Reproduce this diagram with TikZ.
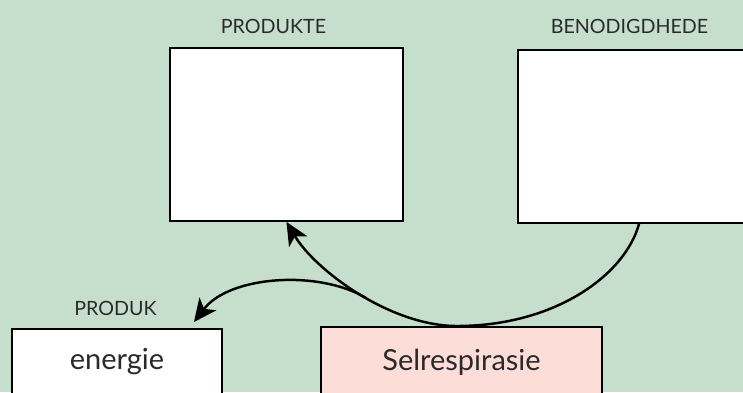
\documentclass[tikz,border=0pt]{standalone}
\usepackage{fontspec}
\setmainfont{Lato}
\usetikzlibrary{arrows.meta}

\definecolor{bggreen}{HTML}{C6DFCC}
\definecolor{cellpink}{HTML}{FDDDD8}
\definecolor{inkgray}{HTML}{2A2A2A}

\tikzset{
  box/.style={draw=black, line width=1.1pt, fill=white, inner sep=0pt},
  heading/.style={text=inkgray, font=\fontsize{11.2}{13}\selectfont},
  word/.style={text=inkgray, font=\fontsize{16.5}{19}\selectfont},
  flow/.style={line width=1.4pt, -{Stealth[length=13pt,width=12pt,inset=3.5pt]}}
}

\begin{document}
\begin{tikzpicture}[x=0.02cm, y=-0.02cm]
  % canvas
  \fill[bggreen] (0,0) rectangle (743,392);
  \useasboundingbox (0,0) rectangle (743,392);

  % empty answer boxes
  \node[box, minimum width=4.66cm, minimum height=3.46cm] (prod) at (286.5,134.5) {};
  \node[box, minimum width=4.84cm, minimum height=3.46cm] (beno) at (639,136.5) {};
  \node[heading] (prodlbl) at (273.5,26) {PRODUKTE};
  \node[heading] (benolbl) at (629.5,26) {BENODIGDHEDE};

  % bottom row
  \node[box, minimum width=4.2cm, minimum height=1.32cm] (energie) at (117,362) {};
  \node[word] (energietxt) at (energie) {energie};
  \node[heading] (produklbl) at (115.5,308) {PRODUK};
  \node[box, fill=cellpink, minimum width=5.62cm, minimum height=1.4cm] (selr) at (461.5,362) {};
  \node[word] (selrtxt) at (selr) {Selrespirasie};

  % arrows
  \coordinate (low) at (457,326);
  \coordinate (join) at (366,298);
  \coordinate (entip) at ([xshift=-0.58cm,yshift=0.12cm]energie.north east);
  \draw[flow] (beno.south) .. controls (625,275) and (555,326) .. (low)
    .. controls (390,326) and (315,270) .. (prod.south);
  \draw[flow] (join) .. controls (320,270) and (230,275) .. (entip);
\end{tikzpicture}
\end{document}
